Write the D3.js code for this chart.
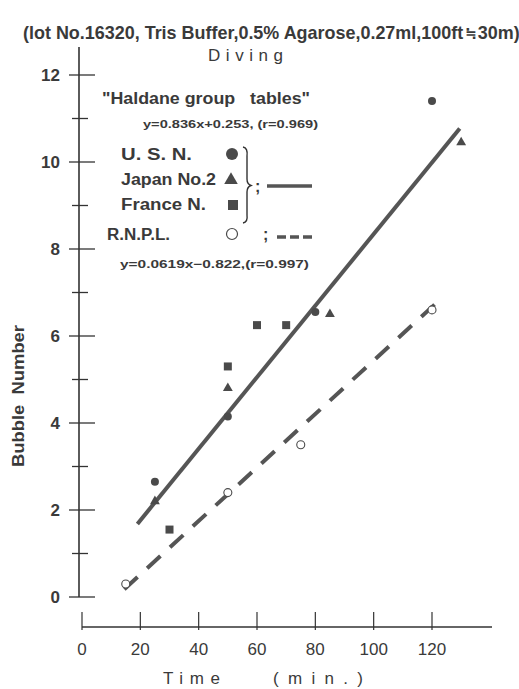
<!DOCTYPE html>
<html>
<head>
<meta charset="utf-8">
<script src="https://cdn.jsdelivr.net/npm/d3@7"></script>
<style>
  html, body { margin: 0; padding: 0; background: #fff; }
  svg { display: block; }
  text { font-family: "Liberation Sans", Arial, sans-serif; fill: #3a3a3a; white-space: pre; }
</style>
</head>
<body>
<svg id="chart" width="519" height="689"></svg>
<script>
// Bubble counts after dives, per decompression table family
const usn    = [[25, 2.65], [50, 4.15], [80, 6.55], [120, 11.4]];
const japan  = [[25, 2.2], [50, 4.8], [85, 6.5], [130, 10.45]];
const france = [[30, 1.55], [50, 5.3], [60, 6.25], [70, 6.25]];
const rnpl   = [[15, 0.3], [50, 2.4], [75, 3.5], [120, 6.6]];

// Fitted lines (end points as plotted)
const haldaneFit = [[19, 1.68], [129.5, 10.77]];
const rnplFit    = [[14.5, 0.18], [122, 6.79]];

const xTicks = [0, 20, 40, 60, 80, 100, 120];
const yMajor = [0, 2, 4, 6, 8, 10, 12];
const yMinor = [1, 3, 5, 7, 9, 11];

const ink = "#4a4a4a";
const svg = d3.select("#chart");

const x = d3.scaleLinear().domain([0, 120]).range([82, 432]);
const y = d3.scaleLinear().domain([0, 12]).range([597, 75]);

// Title: one text, squeezed horizontally to the available width
const title = svg.append("text")
  .style("font-size", "18px").style("font-weight", "bold");
title.append("tspan").text("(lot No.16320, Tris Buffer,0.5% Agarose,0.27ml,100ft");
title.append("tspan")
  .attr("dx", 2).attr("dy", -1)
  .style("font-family", "'DejaVu Sans', 'Noto Sans CJK JP', sans-serif")
  .style("font-size", "14px")
  .text("≒");
title.append("tspan").attr("dx", 1).attr("dy", 1).text("30m)");
const titleW = title.node().getComputedTextLength() || 494;
title.attr("transform", `translate(23,39) scale(${494 / titleW},1)`);

svg.append("text")
  .attr("x", 208).attr("y", 61)
  .attr("textLength", 75).attr("lengthAdjust", "spacing")
  .style("font-size", "17px")
  .text("Diving");

// Y axis: long spine with crossing ticks
const yAxis = svg.append("g").attr("stroke", "#333");
yAxis.append("line")
  .attr("x1", 79).attr("x2", 79)
  .attr("y1", 47).attr("y2", y(0))
  .attr("stroke-width", 1.6);
yAxis.selectAll(".maj").data(yMajor).join("line")
  .attr("x1", 69).attr("x2", 95)
  .attr("y1", d => y(d)).attr("y2", d => y(d))
  .attr("stroke-width", 1.3);
yAxis.selectAll(".min").data(yMinor).join("line")
  .attr("x1", 72).attr("x2", 88)
  .attr("y1", d => y(d)).attr("y2", d => y(d))
  .attr("stroke-width", 1.3);

svg.selectAll(".ylab").data(yMajor).join("text")
  .attr("x", 60).attr("y", d => y(d) + 6)
  .attr("text-anchor", "end")
  .style("font-size", "17px").style("font-weight", "bold")
  .text(d => d);

svg.append("text")
  .attr("transform", "translate(24,396) rotate(-90)")
  .attr("text-anchor", "middle")
  .style("font-size", "16px").style("font-weight", "bold")
  .attr("textLength", 142).attr("lengthAdjust", "spacingAndGlyphs")
  .text("Bubble  Number");

// X axis: separate base line with upward ticks
const xAxisY = 627;
const xAxis = svg.append("g").attr("stroke", "#333");
xAxis.append("line")
  .attr("x1", x(0)).attr("x2", 492)
  .attr("y1", xAxisY).attr("y2", xAxisY)
  .attr("stroke-width", 1.4);
xAxis.selectAll(".xt").data(xTicks).join("line")
  .attr("x1", d => x(d)).attr("x2", d => x(d))
  .attr("y1", xAxisY - 15).attr("y2", xAxisY + 3)
  .attr("stroke-width", 1.2);

svg.selectAll(".xlab").data(xTicks).join("text")
  .attr("x", d => x(d)).attr("y", 655)
  .attr("text-anchor", "middle")
  .style("font-size", "17px")
  .text(d => d);

svg.append("text")
  .attr("x", 163).attr("y", 684)
  .attr("textLength", 57).attr("lengthAdjust", "spacing")
  .style("font-size", "17px")
  .text("Time");
svg.append("text")
  .attr("x", 273).attr("y", 684)
  .attr("textLength", 90).attr("lengthAdjust", "spacing")
  .style("font-size", "17px")
  .text("(min.)");

// Regression lines
const line = d3.line().x(d => x(d[0])).y(d => y(d[1]));
svg.append("path").datum(haldaneFit)
  .attr("d", line).attr("fill", "none")
  .attr("stroke", "#555").attr("stroke-width", 4);
svg.append("path").datum(rnplFit)
  .attr("d", line).attr("fill", "none")
  .attr("stroke", "#555").attr("stroke-width", 4)
  .attr("stroke-dasharray", "18,13");

// Data markers
const marks = svg.append("g");
marks.selectAll(".usn").data(usn).join("circle")
  .attr("cx", d => x(d[0])).attr("cy", d => y(d[1])).attr("r", 4)
  .attr("fill", ink);
marks.selectAll(".jp").data(japan).join("path")
  .attr("d", d3.symbol(d3.symbolTriangle, 42))
  .attr("transform", d => `translate(${x(d[0])},${y(d[1])})`)
  .attr("fill", ink);
marks.selectAll(".fr").data(france).join("rect")
  .attr("x", d => x(d[0]) - 4).attr("y", d => y(d[1]) - 4)
  .attr("width", 8).attr("height", 8)
  .attr("fill", ink);
marks.selectAll(".rn").data(rnpl).join("circle")
  .attr("cx", d => x(d[0])).attr("cy", d => y(d[1])).attr("r", 4)
  .attr("fill", "#fff").attr("stroke", ink).attr("stroke-width", 1.1);

// Legend
const lg = svg.append("g");
lg.append("text")
  .attr("x", 102).attr("y", 104)
  .attr("textLength", 208).attr("lengthAdjust", "spacingAndGlyphs")
  .style("font-size", "17px").style("font-weight", "bold")
  .text("\"Haldane group   tables\"");
lg.append("text")
  .attr("x", 143).attr("y", 128)
  .attr("textLength", 175).attr("lengthAdjust", "spacingAndGlyphs")
  .style("font-size", "11px").style("font-weight", "bold")
  .text("y=0.836x+0.253, (r=0.969)");

const entries = [
  {label: "U. S. N.",   y: 160, w: 71},
  {label: "Japan No.2", y: 185, w: 95},
  {label: "France N.",  y: 210, w: 85}
];
lg.selectAll(".ent").data(entries).join("text")
  .attr("x", 121).attr("y", d => d.y)
  .attr("textLength", d => d.w).attr("lengthAdjust", "spacingAndGlyphs")
  .style("font-size", "16px").style("font-weight", "bold")
  .text(d => d.label);

lg.append("circle").attr("cx", 232).attr("cy", 154).attr("r", 6).attr("fill", ink);
lg.append("path")
  .attr("d", d3.symbol(d3.symbolTriangle, 80))
  .attr("transform", "translate(231,180)").attr("fill", ink);
lg.append("rect").attr("x", 228).attr("y", 200).attr("width", 10).attr("height", 10).attr("fill", ink);

lg.append("path")
  .attr("d", "M243,147 Q248,148 247,156 L247,179 Q247,184 251,185.5 Q247,187 247,192 L247,215 Q248,222 243,223")
  .attr("fill", "none").attr("stroke", "#333").attr("stroke-width", 1.4);
lg.append("text").attr("x", 255).attr("y", 192)
  .style("font-size", "16px").style("font-weight", "bold").text(";");
lg.append("line").attr("x1", 267).attr("x2", 312).attr("y1", 186).attr("y2", 186)
  .attr("stroke", "#555").attr("stroke-width", 3.5);

lg.append("text")
  .attr("x", 107).attr("y", 240)
  .attr("textLength", 63).attr("lengthAdjust", "spacingAndGlyphs")
  .style("font-size", "16px").style("font-weight", "bold")
  .text("R.N.P.L.");
lg.append("circle").attr("cx", 232).attr("cy", 234).attr("r", 5.5)
  .attr("fill", "#fff").attr("stroke", ink).attr("stroke-width", 1.2);
lg.append("text").attr("x", 263).attr("y", 240)
  .style("font-size", "16px").style("font-weight", "bold").text(";");
lg.append("line").attr("x1", 277).attr("x2", 312).attr("y1", 237).attr("y2", 237)
  .attr("stroke", "#555").attr("stroke-width", 3.5).attr("stroke-dasharray", "9,4");

lg.append("text")
  .attr("x", 120).attr("y", 268)
  .attr("textLength", 189).attr("lengthAdjust", "spacingAndGlyphs")
  .style("font-size", "11px").style("font-weight", "bold")
  .text("y=0.0619x\u22120.822,(r=0.997)");
</script>
</body>
</html>
